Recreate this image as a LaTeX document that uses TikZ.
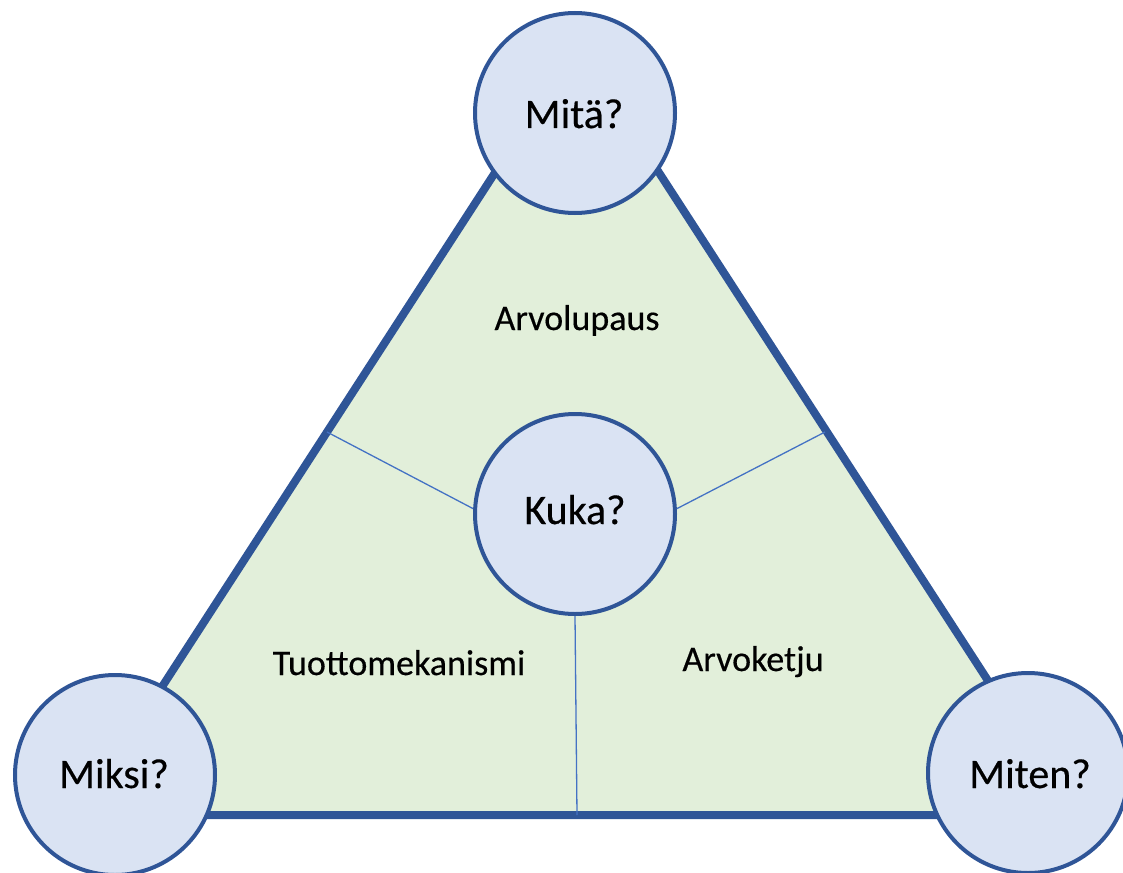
\documentclass[tikz,border=0pt]{standalone}
\usepackage{fontspec}
\setmainfont{Carlito}[FakeBold=0.4]
\definecolor{edgeblue}{HTML}{2F5597}
\definecolor{thinblue}{HTML}{4472C4}
\definecolor{trifill}{HTML}{E2EFDA}
\definecolor{circfill}{HTML}{DAE3F3}
\tikzset{
  qcircle/.style={circle, draw=edgeblue, line width=4pt, fill=circfill, minimum size=200pt, inner sep=0pt},
  qtext/.style={font=\fontsize{42}{50}\selectfont, anchor=base, inner sep=0pt},
  rtext/.style={font=\fontsize{36}{43}\selectfont, anchor=base, inner sep=0pt},
  triedge/.style={draw=edgeblue, line width=8pt, fill=trifill, line join=miter},
  divider/.style={draw=thinblue, line width=1.3pt}
}
\begin{document}
\begin{tikzpicture}[x=1pt,y=-1pt]
\useasboundingbox (0,0) rectangle (1123,872);
\coordinate (A) at (577,46);
\coordinate (B) at (79,815);
\coordinate (C) at (1075,815);
\coordinate (mL) at (327,432);
\coordinate (mR) at (825,432);
\coordinate (mB) at (577,815);
\path[triedge] (A) -- (B) -- (C) -- cycle;
\node[qcircle] (kuka) at (575,514) {};
\draw[divider] (kuka.177) -- (mL);
\draw[divider] (kuka.3) -- (mR);
\draw[divider] (kuka.south) -- (mB);
\node[qcircle] (mita) at (575,113) {};
\node[qcircle] (miksi) at (115,775) {};
\node[qcircle] (miten) at (1028,773) {};
\node[qtext] (tmita) at (574,128) {Mitä?};
\node[qtext] (tkuka) at (575,524) {Kuka?};
\node[qtext] (tmiksi) at (114,788) {Miksi?};
\node[qtext] (tmiten) at (1030,788) {Miten?};
\node[rtext] (tarvo) at (577,330) {Arvolupaus};
\node[rtext] (ttuotto) at (399,675) {Tuottomekanismi};
\node[rtext] (tketju) at (753,671) {Arvoketju};
\end{tikzpicture}
\end{document}
